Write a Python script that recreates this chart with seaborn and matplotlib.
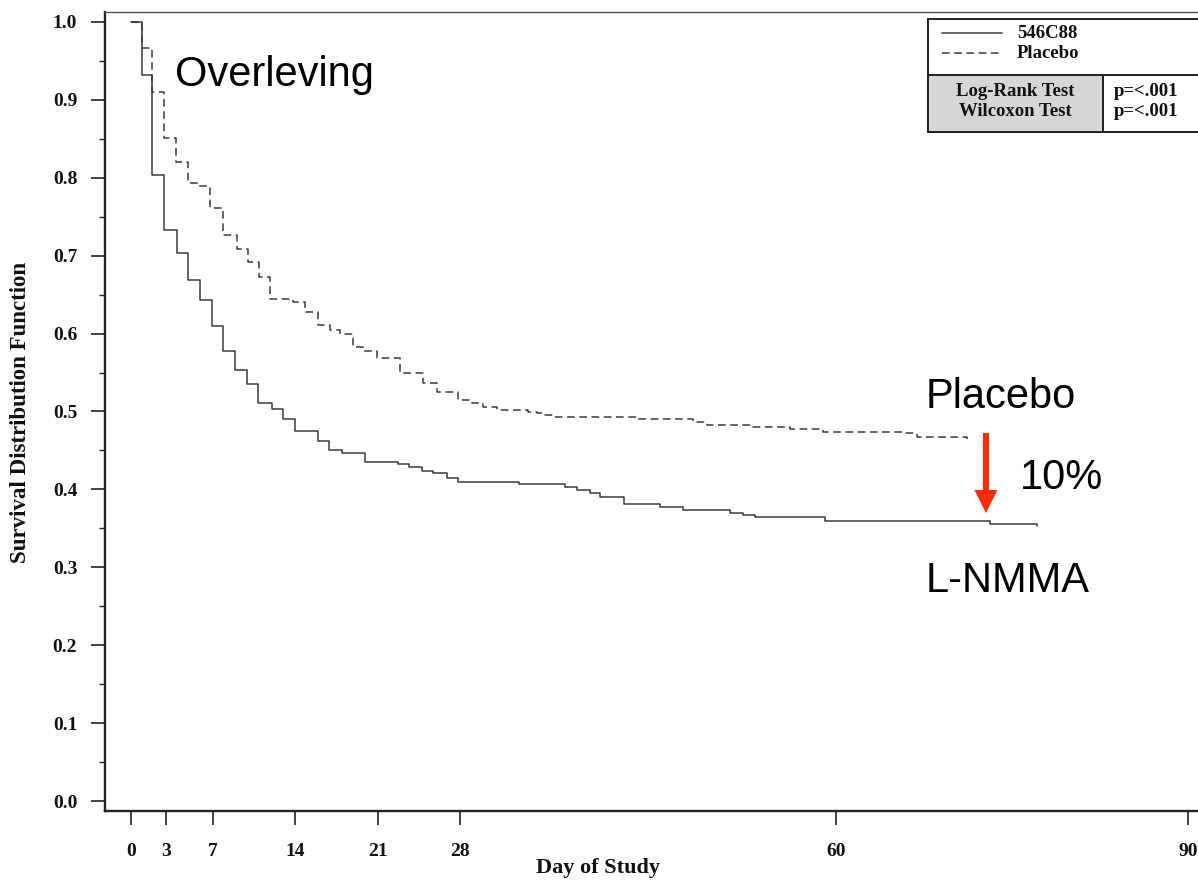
import numpy as np
import pandas as pd
import matplotlib
matplotlib.use('Agg')
import matplotlib.pyplot as plt
from matplotlib.ticker import MultipleLocator
from matplotlib.patches import Rectangle, FancyArrow
from matplotlib.lines import Line2D
import seaborn as sns

sns.set_style('ticks')

# ---------------------------------------------------------
# Data (day, survival)
# ---------------------------------------------------------
DRUG_DAYS = [0, 0.94, 1.79, 2.81, 3.91, 4.85, 5.87, 6.89, 7.83, 8.85, 9.87,
             10.81, 12.0, 12.94, 13.96, 15.9, 16.85, 17.96, 19.91, 22.7, 23.7,
             24.8, 25.7, 26.9, 27.8, 33.0, 36.9, 38.0, 39.1, 39.9, 42.0, 45.0,
             47.0, 51.0, 52.1, 53.1, 59.1, 73.1, 77.1]
DRUG_SURV = [1.0, 0.932, 0.804, 0.733, 0.703, 0.669, 0.643, 0.610, 0.578,
             0.553, 0.535, 0.511, 0.503, 0.490, 0.475, 0.462, 0.451, 0.447,
             0.435, 0.433, 0.429, 0.424, 0.421, 0.415, 0.410, 0.407, 0.403,
             0.399, 0.395, 0.390, 0.381, 0.377, 0.374, 0.370, 0.367, 0.365,
             0.359, 0.356, 0.353]

PLACEBO_DAYS = [0, 0.94, 1.79, 2.81, 3.83, 4.85, 5.79, 6.72, 7.83, 9.02, 9.96,
                10.89, 11.83, 13.79, 14.81, 15.91, 16.94, 17.79, 18.89, 19.74,
                20.94, 22.89, 24.85, 26.04, 27.83, 29.02, 29.96, 31.15, 33.79,
                34.55, 35.23, 35.91, 43.06, 47.83, 49.02, 52.94, 56.09, 58.89,
                65.87, 66.89, 71.15]
PLACEBO_SURV = [1.0, 0.967, 0.910, 0.851, 0.820, 0.793, 0.789, 0.761, 0.727,
                0.709, 0.692, 0.673, 0.644, 0.641, 0.628, 0.611, 0.605, 0.600,
                0.583, 0.578, 0.569, 0.549, 0.537, 0.525, 0.515, 0.511, 0.506,
                0.502, 0.499, 0.498, 0.496, 0.493, 0.490, 0.487, 0.483, 0.480,
                0.478, 0.474, 0.472, 0.467, 0.465]

X_TICKS = [0, 3, 7, 14, 21, 28, 60, 90]
Y_TICKS = np.round(np.arange(0, 1.01, 0.1), 1)

drug = pd.DataFrame({'day': DRUG_DAYS, 'surv': DRUG_SURV})
placebo = pd.DataFrame({'day': PLACEBO_DAYS, 'surv': PLACEBO_SURV})

W, H = 1198, 882
fig = plt.figure(figsize=(W / 100, H / 100), dpi=100)
ax = fig.add_axes([105 / W, 1 - 811 / H, 1 - 105 / W, (811 - 12) / H])

line_col = '#3a3a3a'
sns.lineplot(data=drug, x='day', y='surv', ax=ax, estimator=None,
             drawstyle='steps-post', color=line_col, lw=1.1)
sns.lineplot(data=placebo, x='day', y='surv', ax=ax, estimator=None,
             drawstyle='steps-post', color=line_col, lw=1.1,
             linestyle=(0, (5, 3)))

ax.set_xlim(-2.21, 90.81)
ax.set_ylim(-0.0128, 1.0128)
ax.set_xticks(X_TICKS)
ax.set_yticks(Y_TICKS)
ax.set_yticklabels([f'{v:.1f}' for v in Y_TICKS])
ax.yaxis.set_minor_locator(MultipleLocator(0.05))

serif = 'Liberation Serif'
for lab in ax.get_xticklabels() + ax.get_yticklabels():
    lab.set_family(serif)
    lab.set_fontweight('bold')
    lab.set_fontsize(14)
    lab.set_color('#111')
ax.tick_params(axis='y', which='major', length=10, width=1.2, pad=10, color='#222')
ax.tick_params(axis='y', which='minor', length=4.5, width=1.0, color='#222')
ax.tick_params(axis='x', which='major', length=10, width=1.2, pad=13, color='#222')

for s in ['left', 'bottom']:
    ax.spines[s].set_linewidth(1.7)
    ax.spines[s].set_color('#222')
ax.spines['top'].set_linewidth(1.0)
ax.spines['top'].set_color('#555')
ax.spines['right'].set_visible(False)

ax.set_xlabel('Day of Study', family=serif, fontweight='bold', fontsize=16,
              color='#111')
ax.set_ylabel('Survival Distribution Function', family=serif,
              fontweight='bold', fontsize=16.5, color='#111')
ax.xaxis.set_label_coords((598 - 105) / (W - 105), -(868 - 811) / (811 - 12))
ax.yaxis.set_label_coords(-(105 - 21) / (W - 105), (811 - 412) / (811 - 12))
ax.xaxis.label.set_va('center')
ax.yaxis.label.set_va('center')

# annotations
sans = 'Liberation Sans'
txt_kw = dict(family=sans, fontsize=30, va='baseline', color='black')
ax.text(3.74, 0.918, 'Overleving', **txt_kw)
ax.text(67.66, 0.5045, 'Placebo', **txt_kw)
ax.text(75.66, 0.4005, '10%', **txt_kw)
ax.text(67.66, 0.268, 'L-NMMA', **txt_kw)
ax.add_patch(FancyArrow(72.77, 0.4724, 0, 0.3697 - 0.4724, width=6 / 11.75,
                        head_width=23 / 11.75, head_length=23 / 779,
                        length_includes_head=True, color='#ff2a0a', lw=0))

# legend / test box (figure pixel coordinates)
def fx(px):
    return px / W

def fy(py):
    return 1 - py / H

box_kw = dict(transform=fig.transFigure, ec='#222', lw=1.4, clip_on=False)
fig.patches.append(Rectangle((fx(928), fy(132)), fx(1198) - fx(928) + 0.01,
                             fy(19) - fy(132), fc='white', **box_kw))
fig.patches.append(Rectangle((fx(928), fy(132)), fx(1103) - fx(928),
                             fy(75) - fy(132), fc='#d6d6d6', **box_kw))
fig.patches.append(Rectangle((fx(1103), fy(132)), fx(1198) - fx(1103) + 0.01,
                             fy(75) - fy(132), fc='white', **box_kw))
fig.lines.append(Line2D([fx(942), fx(1002)], [fy(33), fy(33)], color=line_col,
                        lw=1.1, transform=fig.transFigure))
fig.lines.append(Line2D([fx(942), fx(1002)], [fy(53), fy(53)], color=line_col,
                        lw=1.1, ls=(0, (5, 3)), transform=fig.transFigure))
leg_kw = dict(family=serif, fontweight='bold', fontsize=13.5, va='center',
              color='#111')
fig.text(fx(1017), fy(33), '546C88', **leg_kw)
fig.text(fx(1017), fy(54), 'Placebo', **leg_kw)
fig.text(fx(1015), fy(92), 'Log-Rank Test', ha='center', **leg_kw)
fig.text(fx(1015), fy(112), 'Wilcoxon Test', ha='center', **leg_kw)
fig.text(fx(1114), fy(92), 'p=<.001', **leg_kw)
fig.text(fx(1114), fy(112), 'p=<.001', **leg_kw)

fig.savefig('out.png', dpi=100)
